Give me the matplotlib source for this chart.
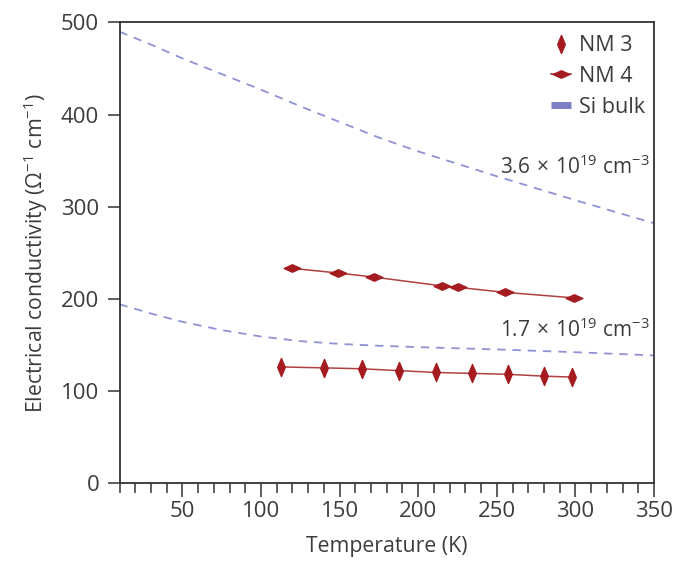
import matplotlib
matplotlib.use("Agg")
import matplotlib.pyplot as plt
from matplotlib.path import Path
from matplotlib.lines import Line2D
from matplotlib.ticker import MultipleLocator

plt.rcParams['font.family'] = ['Open Sans', 'DejaVu Sans']
plt.rcParams['mathtext.fontset'] = 'custom'
plt.rcParams['mathtext.rm'] = 'Open Sans'
plt.rcParams['mathtext.it'] = 'Open Sans'
plt.rcParams['lines.scale_dashes'] = False

# NM 3 samples (vertical diamonds)
nm3Temp = [113, 140, 164, 188, 211, 234, 257, 280, 298]
nm3Cond = [126, 125, 124, 122, 120, 119, 118, 116, 115]

# NM 4 samples (horizontal diamonds)
nm4Temp = [120, 149, 172, 215, 225, 255, 299]
nm4Cond = [233, 228, 223.5, 214, 212.5, 207, 201]

# Si bulk reference curves
siTemp = [10, 30, 50, 75, 100, 125, 150, 175, 200, 250, 300, 350]
siHigh = [490, 476, 461, 444, 427, 409, 392, 375, 360, 333, 307, 282]
siLow = [194, 184, 175, 166, 159, 154, 151, 149, 147.5, 145, 142, 138.5]

textColor = "#3c3c3c"
redColor = "#a51c20"
lineRed = "#b04040"
blueColor = "#9092d4"

vDiamond = Path([(0, 1), (0.42, 0), (0, -1), (-0.42, 0), (0, 1)],
                [Path.MOVETO, Path.LINETO, Path.LINETO, Path.LINETO, Path.CLOSEPOLY])
hDiamond = Path([(-1, 0), (0, 0.45), (1, 0), (0, -0.45), (-1, 0)],
                [Path.MOVETO, Path.LINETO, Path.LINETO, Path.LINETO, Path.CLOSEPOLY])

fig = plt.figure(figsize=(6.76, 5.63), dpi=100)
ax = fig.add_axes([0.1768, 0.1421, 0.7907, 0.818])

ax.plot(siTemp, siHigh, color=blueColor, lw=1.3, dashes=(6, 5))
ax.plot(siTemp, siLow, color=blueColor, lw=1.3, dashes=(6, 5))

ax.plot(nm4Temp, nm4Cond, color=lineRed, lw=1.1, marker=hDiamond, markersize=12,
        markerfacecolor=redColor, markeredgecolor=redColor)
ax.plot(nm3Temp, nm3Cond, color=lineRed, lw=1.1, marker=vDiamond, markersize=13,
        markerfacecolor=redColor, markeredgecolor=redColor)

ax.text(347, 343, r"3.6$\,\times\,$10$^{19}$ cm$^{-3}$", ha="right", va="center",
        fontsize=15, color=textColor)
ax.text(347, 166, r"1.7$\,\times\,$10$^{19}$ cm$^{-3}$", ha="right", va="center",
        fontsize=15, color=textColor)

ax.set_xlim(10, 350)
ax.set_ylim(0, 500)
ax.xaxis.set_major_locator(MultipleLocator(50))
ax.xaxis.set_minor_locator(MultipleLocator(10))
ax.yaxis.set_major_locator(MultipleLocator(100))

ax.tick_params(axis="x", which="major", direction="out", length=10, width=1.1,
               labelsize=16, labelcolor=textColor, color="#333333", pad=3)
ax.tick_params(axis="x", which="minor", direction="out", length=7, width=1.1, color="#333333")
ax.tick_params(axis="y", which="major", direction="out", length=8.6, width=1.1,
               labelsize=16, labelcolor=textColor, color="#333333", pad=6)
for side in ["left", "bottom", "top", "right"]:
    ax.spines[side].set_color("#333333")
    ax.spines[side].set_linewidth(1.3)

ax.set_xlabel("Temperature (K)", fontsize=15.3, color=textColor, labelpad=10)
ax.set_ylabel(r"Electrical conductivity ($\Omega^{-1}$ cm$^{-1}$)", fontsize=15.3,
              color=textColor, labelpad=8)

handles = [
    Line2D([], [], ls="none", marker=vDiamond, markersize=13, color=redColor),
    Line2D([], [], color=redColor, lw=1.1, marker=hDiamond, markersize=12),
    Line2D([], [], color="#7d7fc4", lw=5, solid_capstyle="butt"),
]
leg = ax.legend(handles, ["NM 3", "NM 4", "Si bulk"], loc="upper right", frameon=False,
                fontsize=15.5, handlelength=0.9, handletextpad=0.4, labelspacing=0.45,
                borderaxespad=0.0, bbox_to_anchor=(1.0, 0.991))
for t in leg.get_texts():
    t.set_color(textColor)

plt.savefig("out.png", dpi=100)
